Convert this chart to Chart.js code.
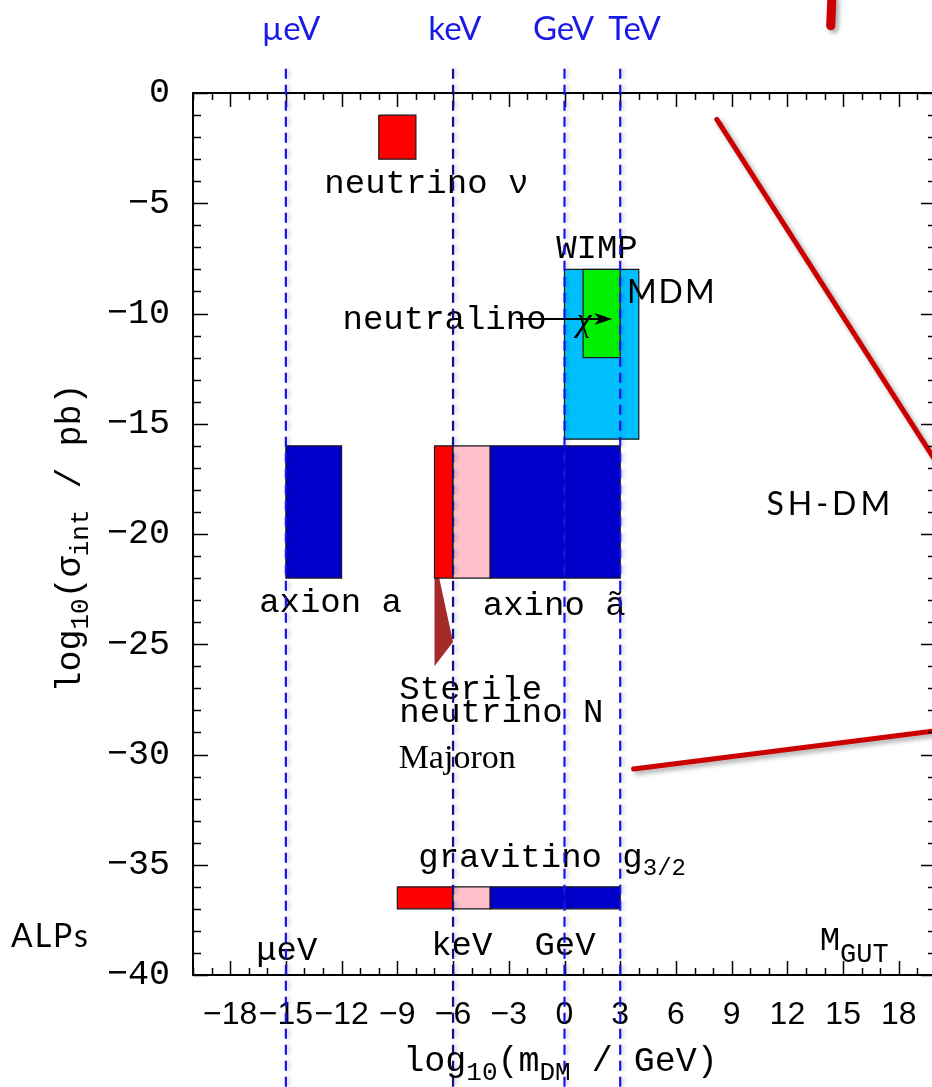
<!DOCTYPE html>
<html>
<head>
<meta charset="utf-8">
<script src="https://cdn.jsdelivr.net/npm/chart.js@4.4.1/dist/chart.umd.min.js"></script>
<style>
html, body { margin: 0; padding: 0; background: #fff; overflow: hidden; }
canvas { display: block; }
</style>
</head>
<body>
<canvas id="chart" width="960" height="1087"></canvas>
<script>
// candidate boxes: log10(m / GeV) range and log10(sigma / pb) range
const boxNames = ["neutrino", "WIMP", "MDM", "axion", "sterile N", "sterile N warm", "axino", "gravitino hot", "gravitino warm", "gravitino cold"];
const boxMassLo = [-10, 0, 1, -15, -7, -6, -4, -9, -6, -4];
const boxMassHi = [-8, 4, 3, -12, -6, -4, 3, -6, -4, 3];
const boxSigmaHi = [-1, -8, -8, -16, -16, -16, -16, -36, -36, -36];
const boxSigmaLo = [-3, -15.7, -12, -22, -22, -22, -22, -37, -37, -37];
const boxColors = ["#ff0000", "#00bfff", "#00ee00", "#0000cc", "#ff0000", "#ffc0cb", "#0000cc", "#ff0000", "#ffc0cb", "#0000cc"];

// vertical energy markers
const markerMass = [-15, -6, 0, 3];
const markerNames = ["\u00b5eV", "keV", "GeV", "TeV"];

// SH-DM wedge lines and sterile neutrino pointer
const wedgeUpper = [{x: 8.2, y: -1.2}, {x: 20.75, y: -17.7}];
const wedgeLower = [{x: 3.72, y: -30.66}, {x: 20.75, y: -28.84}];
const topStroke = [{x: 14.39, y: 4.25}, {x: 14.33, y: 3.05}];
const pointer = [{x: -7, y: -21}, {x: -6, y: -24.9}, {x: -7, y: -26}];

const MONO = '"Liberation Mono", "DejaVu Sans Mono", monospace';
const SANS = '"Liberation Sans", Arial, sans-serif';
const HAND = 'Lato, "Open Sans", sans-serif';
const SERIF = '"Liberation Serif", "Times New Roman", serif';

// text labels placed in data coordinates (left, baseline)
const notes = [
	["neutrino \u03bd", -12.93, -4.54, MONO, 34, 0],
	["WIMP", -0.45, -7.5, MONO, 34, 0],
	["MDM", 3.36, -9.54, HAND, 32, 2],
	["neutralino", -11.95, -10.7, MONO, 34, 0],
	["axion a", -16.44, -23.52, MONO, 34, 0],
	["axino \u00e3", -4.4, -23.67, MONO, 34, 0],
	["Sterile", -8.89, -27.5, MONO, 34, 0],
	["neutrino N", -8.89, -28.51, MONO, 34, 0],
	["Majoron", -8.93, -30.63, SERIF, 34, 0],
	["SH-DM", 10.87, -19.14, HAND, 32, 4],
	["ALPs", -29.8, -38.72, HAND, 32, 2],
	["\u03bceV", -16.6, -39.3, MONO, 34, 0],
	["keV", -7.18, -39.1, MONO, 34, 0],
	["GeV", -1.62, -39.1, MONO, 34, 0],
];

const fmt = function(v) {
	return v < 0 ? "\u2212" + Math.abs(v) : String(v);
}

const drawParts = function(ctx, parts, x, y) {
	let cx = x;
	for (const [t, size, dy, family] of parts) {
		ctx.font = `${size}px ${family}`;
		ctx.fillText(t, cx, y + dy);
		cx += ctx.measureText(t).width;
	}
	return cx - x;
}
const partsWidth = function(ctx, parts) {
	let w = 0;
	for (const [t, size, dy, family] of parts) {
		ctx.font = `${size}px ${family}`;
		w += ctx.measureText(t).width;
	}
	return w;
}

// Chart.js paints higher "order" first, so later boxes get a lower order to sit on top
const datasets = [];
for (let i = 0; i < boxNames.length; i++) {
	datasets.push({
		label: boxNames[i],
		data: [
			{x: boxMassLo[i], y: boxSigmaHi[i]},
			{x: boxMassHi[i], y: boxSigmaHi[i]},
			{x: boxMassHi[i], y: boxSigmaLo[i]},
			{x: boxMassLo[i], y: boxSigmaLo[i]},
			{x: boxMassLo[i], y: boxSigmaHi[i]},
		],
		order: 100 - i,
		borderColor: "#1a1a1a",
		borderWidth: 1.2,
		backgroundColor: boxColors[i],
		fill: "shape",
		pointRadius: 0,
		tension: 0,
	});
}
datasets.push({label: "pointer", data: [...pointer, pointer[0]], order: 200, borderWidth: 0, borderColor: "rgba(0,0,0,0)", backgroundColor: "#a52a2a", fill: "shape", pointRadius: 0});
for (const [name, pts, w] of [["upper", wedgeUpper, 5], ["lower", wedgeLower, 5], ["stroke", topStroke, 9]]) {
	datasets.push({label: name, data: pts, order: 0, borderColor: "#cc0000", borderWidth: w, borderCapStyle: "round", fill: false, pointRadius: 0, clip: false, glow: true});
}

const decor = {
	id: "decor",
	beforeDatasetDraw(chart, args) {
		if (chart.data.datasets[args.index].glow) {
			const ctx = chart.ctx;
			ctx.save();
			ctx.shadowColor = "rgba(0,0,0,0.35)";
			ctx.shadowBlur = 5;
			ctx.shadowOffsetX = 3;
			ctx.shadowOffsetY = 3;
		}
	},
	afterDatasetDraw(chart, args) {
		if (chart.data.datasets[args.index].glow) chart.ctx.restore();
	},
	afterDraw(chart) {
		const ctx = chart.ctx;
		const x = chart.scales.x, y = chart.scales.y;
		const {left, right, top, bottom} = chart.chartArea;

		// frame with inward ticks on all sides
		ctx.save();
		ctx.strokeStyle = "#000";
		ctx.lineWidth = 2;
		ctx.strokeRect(left, top, right - left, bottom - top);
		ctx.lineWidth = 1.5;
		ctx.beginPath();
		for (const t of x.ticks) {
			const px = Math.round(x.getPixelForValue(t.value)) + 0.5;
			const len = t.value % 3 === 0 ? 14 : 7;
			ctx.moveTo(px, bottom); ctx.lineTo(px, bottom - len);
			ctx.moveTo(px, top); ctx.lineTo(px, top + len);
		}
		for (const t of y.ticks) {
			const py = Math.round(y.getPixelForValue(t.value)) + 0.5;
			const len = t.value % 5 === 0 ? 15 : 8;
			ctx.moveTo(left, py); ctx.lineTo(left + len, py);
			ctx.moveTo(right, py); ctx.lineTo(right - len, py);
		}
		ctx.stroke();

		// labels
		ctx.fillStyle = "#000";
		ctx.textBaseline = "alphabetic";
		ctx.textAlign = "left";
		for (const [text, vx, vy, family, size, spacing] of notes) {
			ctx.font = `${size}px ${family}`;
			ctx.letterSpacing = spacing + "px";
			ctx.fillText(text, x.getPixelForValue(vx), y.getPixelForValue(vy));
		}
		ctx.letterSpacing = "0px";
		drawParts(ctx, [["gravitino g", 34, 0, MONO], ["3/2", 24, 8, MONO]], x.getPixelForValue(-7.87), y.getPixelForValue(-35.09));
		drawParts(ctx, [["M", 34, 0, MONO], ["GUT", 27, 12, MONO]], x.getPixelForValue(13.74), y.getPixelForValue(-38.87));

		// neutralino arrow and chi
		const ay = y.getPixelForValue(-10.25);
		const ax0 = x.getPixelForValue(-2.6), ax1 = x.getPixelForValue(2.57);
		ctx.lineWidth = 2;
		ctx.beginPath();
		ctx.moveTo(ax0, ay); ctx.lineTo(ax1 - 12, ay);
		ctx.stroke();
		ctx.beginPath();
		ctx.moveTo(ax1, ay); ctx.lineTo(ax1 - 18, ay - 6); ctx.lineTo(ax1 - 13, ay); ctx.lineTo(ax1 - 18, ay + 6);
		ctx.closePath();
		ctx.fill();
		ctx.font = `italic 34px ${SERIF}`;
		ctx.fillText("\u03c7", x.getPixelForValue(0.65), y.getPixelForValue(-10.8));

		// energy markers
		ctx.save();
		ctx.shadowColor = "rgba(0,0,0,0.25)";
		ctx.shadowBlur = 4;
		ctx.shadowOffsetX = 2;
		ctx.shadowOffsetY = 0;
		ctx.setLineDash([10, 6]);
		ctx.lineWidth = 2.2;
		markerMass.forEach((m, i) => {
			const px = x.getPixelForValue(m);
			ctx.strokeStyle = m === -6 ? "#10108a" : "#1414ee";
			ctx.beginPath();
			ctx.moveTo(px, y.getPixelForValue(1.1));
			ctx.lineTo(px, chart.height);
			ctx.stroke();
		});
		ctx.restore();
		ctx.fillStyle = "#1a1ae6";
		ctx.font = `33px ${HAND}`;
		const topLeft = [-16.3, -7.33, -1.7, 2.35];
		markerNames.forEach((name, i) => {
			ctx.fillText(name, x.getPixelForValue(topLeft[i]), 40);
		});

		// axis titles
		ctx.fillStyle = "#000";
		const xt = [["log", 35, 0, MONO], ["10", 26, 9, MONO], ["(m", 35, 0, MONO], ["DM", 26, 9, MONO], [" / GeV)", 35, 0, MONO]];
		drawParts(ctx, xt, (left + right) / 2 - partsWidth(ctx, xt) / 2 - 4, 1071);
		const yt = [["log", 35, 0, MONO], ["10", 26, 8, MONO], ["(\u03c3", 35, 0, MONO], ["int", 26, 8, MONO], [" / pb)", 35, 0, MONO]];
		ctx.translate(80, 538 + partsWidth(ctx, yt) / 2);
		ctx.rotate(-Math.PI / 2);
		drawParts(ctx, yt, 0, 0);
		ctx.restore();
	}
};

new Chart(document.getElementById("chart"), {
	type: "line",
	data: {datasets},
	options: {
		responsive: false,
		animation: false,
		events: [],
		layout: {padding: {top: 93, right: 24, left: 0, bottom: 0}},
		plugins: {legend: {display: false}, tooltip: {enabled: false}},
		scales: {
			x: {
				type: "linear", min: -20, max: 20,
				grid: {display: false}, border: {display: false},
				afterFit(s) { s.height = 112; },
				ticks: {
					stepSize: 1, autoSkip: false, maxRotation: 0, padding: 13, color: "#000",
					font: {family: SANS, size: 32},
					callback: v => v % 3 === 0 ? fmt(v) : "",
				},
			},
			y: {
				type: "linear", min: -40, max: 0,
				grid: {display: false}, border: {display: false},
				afterFit(s) { s.width = 193; },
				ticks: {
					stepSize: 1, autoSkip: false, padding: 15, color: "#000",
					font: {family: MONO, size: 35},
					callback: v => v % 5 === 0 ? fmt(v) : "",
				},
			},
		},
	},
	plugins: [decor],
});
</script>
</body>
</html>
